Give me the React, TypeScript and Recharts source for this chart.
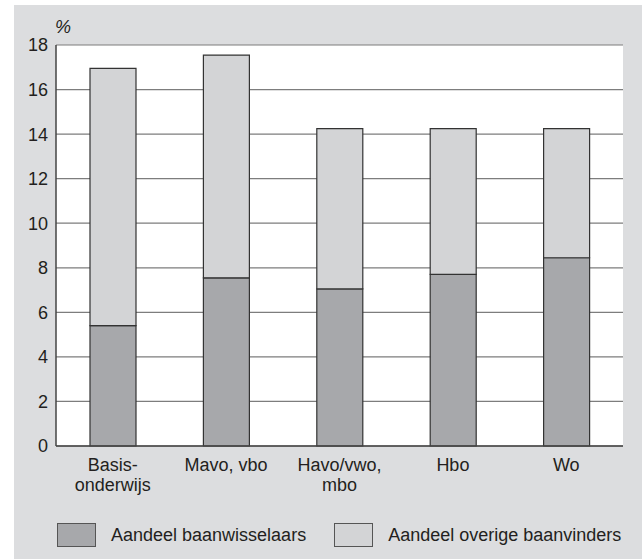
import React from "react";
import {
  BarChart,
  Bar,
  XAxis,
  YAxis,
  CartesianGrid,
  Label,
} from "recharts";

const categories = ["Basis-\nonderwijs", "Mavo, vbo", "Havo/vwo,\nmbo", "Hbo", "Wo"];
const baanwisselaars = [5.4, 7.55, 7.05, 7.7, 8.45];
const overigeBaanvinders = [11.55, 10.0, 7.2, 6.55, 5.8];
const yTicks = [0, 2, 4, 6, 8, 10, 12, 14, 16, 18];

const seriesNames = ["Aandeel baanwisselaars", "Aandeel overige baanvinders"];
const seriesColors = ["#a7a8ab", "#d3d4d6"];

const FONT = "'Liberation Sans', Arial, sans-serif";
const TEXT = "#231f20";
const FS = 18;

const chartData = categories.map((name, i) => ({
  name,
  wissel: baanwisselaars[i],
  overig: overigeBaanvinders[i],
}));

function CategoryTick(props: any) {
  const { x, y, payload } = props;
  const lines = String(payload.value).split("\n");
  return (
    <g>
      {lines.map((line, i) => (
        <text
          key={i}
          x={x}
          y={y + 23 + i * 20}
          textAnchor="middle"
          fontSize={FS}
          fontFamily={FONT}
          fill={TEXT}
        >
          {line}
        </text>
      ))}
    </g>
  );
}

export default function App() {
  return (
    <div
      style={{
        position: "absolute",
        left: 0,
        top: 0,
        width: 642,
        height: 559,
        fontFamily: FONT,
      }}
    >
      <div
        style={{
          position: "absolute",
          left: 14,
          top: 5,
          width: 628,
          height: 554,
          background: "#dcdddf",
        }}
      />
      <div style={{ position: "absolute", left: 0, top: 0 }}>
        <BarChart
          width={642}
          height={500}
          data={chartData}
          margin={{ top: 45, right: 19, left: 14, bottom: 0 }}
          barSize={46}
        >
          <CartesianGrid
            vertical={false}
            stroke="#7d7d7d"
            strokeWidth={1.2}
            fill="#ffffff"
            fillOpacity={1}
          />
          <XAxis
            dataKey="name"
            height={54}
            tickLine={false}
            tickSize={0}
            axisLine={{ stroke: "#444", strokeWidth: 1.5 }}
            tick={<CategoryTick />}
            interval={0}
          />
          <YAxis
            width={42}
            domain={[0, 18]}
            ticks={yTicks}
            interval={0}
            tickLine={false}
            tickSize={0}
            tickMargin={8}
            axisLine={{ stroke: "#444", strokeWidth: 1.5 }}
            tick={{ fontSize: FS, fill: TEXT, fontFamily: FONT }}
          >
            <Label
              content={({ viewBox }: any) => (
                <text
                  x={viewBox.x + viewBox.width - 1}
                  y={viewBox.y - 12}
                  fontSize={18}
                  fontStyle="italic"
                  fontFamily={FONT}
                  fill={TEXT}
                >
                  %
                </text>
              )}
            />
          </YAxis>
          <YAxis
            yAxisId="right"
            orientation="right"
            width={0}
            domain={[0, 18]}
            tick={false}
            tickLine={false}
            axisLine={{ stroke: "#555", strokeWidth: 1.5 }}
          />
          <Bar
            dataKey="wissel"
            name={seriesNames[0]}
            stackId="a"
            fill={seriesColors[0]}
            stroke="#333"
            strokeWidth={1.2}
            isAnimationActive={false}
          />
          <Bar
            dataKey="overig"
            name={seriesNames[1]}
            stackId="a"
            fill={seriesColors[1]}
            stroke="#333"
            strokeWidth={1.2}
            isAnimationActive={false}
          />
        </BarChart>
      </div>
      <div
        style={{
          position: "absolute",
          top: 523,
          left: 57,
          display: "flex",
          alignItems: "center",
          fontSize: FS,
          color: TEXT,
          lineHeight: "23px",
        }}
      >
        {seriesNames.map((n, i) => (
          <div
            key={n}
            style={{ display: "flex", alignItems: "center", marginRight: i === 0 ? 28 : 0 }}
          >
            <span
              style={{
                display: "inline-block",
                width: 37,
                height: 22,
                background: seriesColors[i],
                border: "1px solid #555",
                marginRight: 15,
              }}
            />
            <span>{n}</span>
          </div>
        ))}
      </div>
    </div>
  );
}
